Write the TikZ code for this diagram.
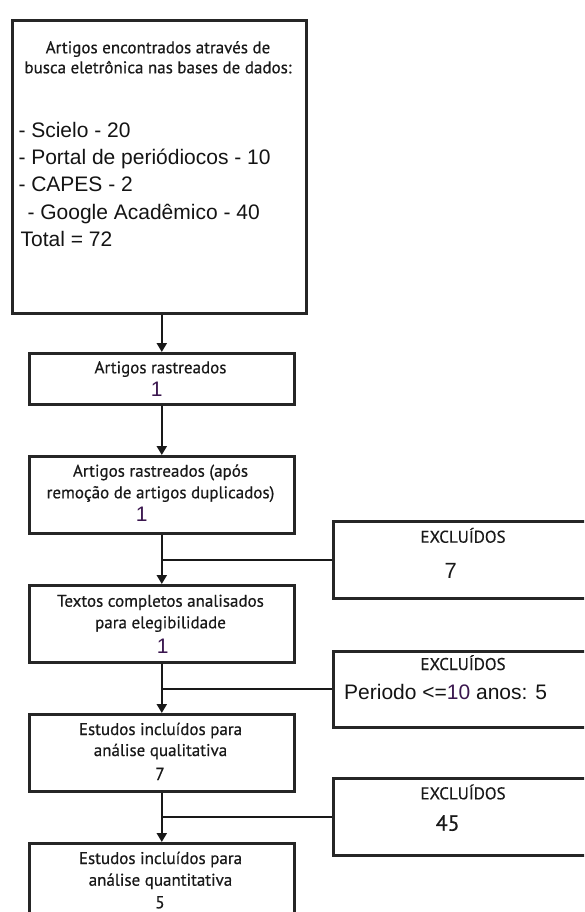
\documentclass[tikz,border=0pt]{standalone}
\usepackage{fontspec}
\setmainfont{Liberation Sans}
\newfontfamily\myr[FakeBold=0.5]{PT Sans}
\usetikzlibrary{arrows.meta}
\definecolor{numpurple}{RGB}{58,22,78}
\definecolor{txtgray}{RGB}{25,25,25}
\begin{document}
\begin{tikzpicture}[x=1pt,y=-1pt,
 box/.style={draw=black!85,line width=2.6pt,inner sep=0pt,anchor=north west},
 hd/.style={font=\myr\fontsize{17}{20}\selectfont,anchor=base,inner sep=0pt,text=txtgray},
 ar/.style={font=\fontsize{21}{24}\selectfont,anchor=base west,inner sep=0pt,text=black!92},
 num/.style={font=\fontsize{21}{24}\selectfont,anchor=base,inner sep=0pt,text=numpurple},
 conn/.style={line width=2.1pt,draw=black!90},
 arr/.style={conn,-{Triangle[width=10pt,length=9pt]}}]
\clip (0,0) rectangle (584,912);
\useasboundingbox (0,0) rectangle (584,912);
\fill[white] (0,0) rectangle (584,912);

% main column boxes
\node[box,minimum width=294pt,minimum height=293pt] (b0) at (11,19) {};
\node[box,minimum width=265pt,minimum height=51pt] (b1) at (28,352) {};
\node[box,minimum width=265pt,minimum height=77pt] (b2) at (28,455) {};
\node[box,minimum width=265pt,minimum height=77pt] (b3) at (28,584) {};
\node[box,minimum width=265pt,minimum height=77pt] (b4) at (28,713) {};
\node[box,minimum width=265pt,minimum height=85pt] (b5) at (28,842) {};

% excluded boxes
\node[box,minimum width=280pt,minimum height=77pt] (e1) at (332,520) {};
\node[box,minimum width=280pt,minimum height=76pt] (e2) at (332,650) {};
\node[box,minimum width=280pt,minimum height=77pt] (e3) at (332,777) {};

% texts box 0
\node[hd] (t0a) at (158,53.3) {Artigos encontrados através de};
\node[hd] (t0b) at (158,73.3) {busca eletrônica nas bases de dados:};
\node[ar] (t0c) at (18.3,137.7) {- Scielo - 20};
\node[ar] (t0d) at (18.3,165) {- Portal de periódiocos - 10};
\node[ar] (t0e) at (18.3,191.7) {- CAPES - 2};
\node[ar] (t0f) at (21.5,219.5) {\ - Google Acadêmico - 40};
\node[ar] (t0g) at (20.5,246.7) {Total = 72};

% box 1
\node[hd] (t1a) at (160.5,373.3) {Artigos rastreados};
\node[num] (t1b) at (156.7,396.7) {1};

% box 2
\node[hd] (t2a) at (160.5,476.7) {Artigos rastreados (após};
\node[hd] (t2b) at (160.5,498.3) {remoção de artigos duplicados)};
\node[num] (t2c) at (141.7,521.7) {1};

% box 3
\node[hd] (t3a) at (160.5,606.7) {Textos completos analisados};
\node[hd] (t3b) at (160.5,628.3) {para elegibilidade};
\node[num] (t3c) at (162.7,653.3) {1};

% box 4
\node[hd] (t4a) at (160.5,735) {Estudos incluídos para};
\node[hd] (t4b) at (160.5,756) {análise qualitativa};
\node[hd,font=\myr\fontsize{17.5}{20}\selectfont] (t4c) at (160,780) {7};

% box 5
\node[hd] (t5a) at (160.5,864) {Estudos incluídos para};
\node[hd] (t5b) at (160.5,885.7) {análise quantitativa};
\node[hd,font=\myr\fontsize{17.5}{20}\selectfont] (t5c) at (160,908.3) {5};

% excluded texts
\node[hd] (x1a) at (463,542.7) {EXCLUÍDOS};
\node[num,text=black!90,font=\fontsize{22}{24}\selectfont] (x1b) at (450.7,578) {7};
\node[hd] (x2a) at (463,670) {EXCLUÍDOS};
\node[ar] (x2b) at (344,699.3) {Periodo <=\textcolor{numpurple}{10} anos: 5};
\node[hd] (x3a) at (463,799.3) {EXCLUÍDOS};
\node[hd,text=black!90,font=\myr\fontsize{22}{24}\selectfont] (x3b) at (447.7,830.7) {45};

% connectors
\draw[arr] (b1.north |- b0.south) -- (b1.north);
\draw[arr] (b1.south) -- (b2.north);
\draw[arr] (b2.south) -- (b3.north);
\draw[arr] (b3.south) -- (b4.north);
\draw[arr] (b4.south) -- (b5.north);

\coordinate (j1) at (b2.south |- e1.west);
\coordinate (j2) at (b3.south |- e2.west);
\coordinate (j3) at (b4.south |- e3.west);
\draw[conn] (j1) -- (e1.west);
\draw[conn] (j2) -- (e2.west);
\draw[conn] (j3) -- (e3.west);
\end{tikzpicture}
\end{document}
